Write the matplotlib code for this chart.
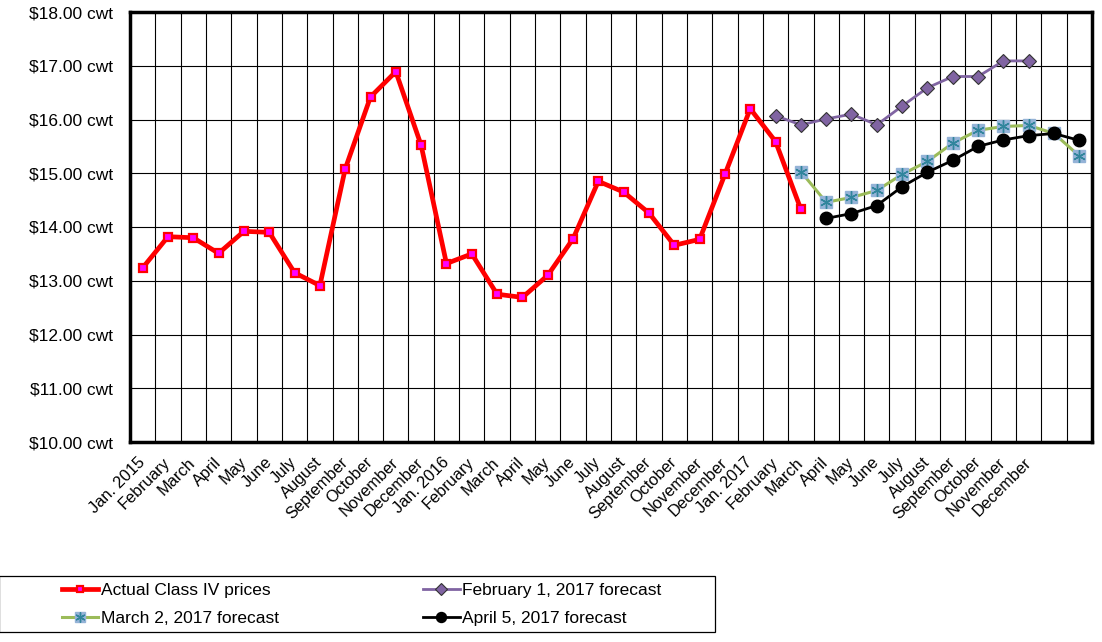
import matplotlib.pyplot as plt
import numpy as np
from matplotlib.patches import Rectangle
from matplotlib.ticker import FuncFormatter

plt.rcParams['font.family'] = ['Liberation Sans', 'DejaVu Sans']

months = ['January', 'February', 'March', 'April', 'May', 'June', 'July',
          'August', 'September', 'October', 'November', 'December']
# category labels: Jan 2015 .. Dec 2017, then two unlabelled slots
labels = (['Jan. 2015'] + months[1:] + ['Jan. 2016'] + months[1:]
          + ['Jan. 2017'] + months[1:] + ['', ''])

actual = [13.24, 13.82, 13.80, 13.51, 13.92, 13.90, 13.15, 12.91, 15.08, 16.42,
          16.89, 15.52, 13.32, 13.50, 12.75, 12.69, 13.10, 13.78, 14.85, 14.65,
          14.26, 13.66, 13.77, 14.98, 16.20, 15.59, 14.33]
feb_forecast = [None] * 25 + [16.07, 15.90, 16.01, 16.10, 15.90, 16.25, 16.59,
                              16.80, 16.80, 17.09, 17.09]
mar_forecast = [None] * 26 + [15.03, 14.46, 14.55, 14.68, 14.98, 15.22, 15.56,
                              15.80, 15.87, 15.89, 15.74, 15.32]
apr_forecast = [None] * 27 + [14.16, 14.25, 14.40, 14.75, 15.02, 15.24, 15.50,
                              15.62, 15.70, 15.74, 15.61]


def as_series(vals):
    return np.array([np.nan if v is None else v for v in vals], dtype=float)


x = np.arange(len(labels))

fig = plt.figure(figsize=(11.02, 6.42), dpi=100)
ax = fig.add_axes([130 / 1102, 1 - 442 / 642, 962 / 1102, 430 / 642])

feb = as_series(feb_forecast)
mar = as_series(mar_forecast)
apr = as_series(apr_forecast)

h_act, = ax.plot(x[:len(actual)], actual, color='red', lw=3.4, marker='s', ms=6,
                 mfc='#ff00ff', mec='red', mew=1.6, zorder=3)
h_feb, = ax.plot(x[:len(feb)], feb, color='#8064a2', lw=2, marker='D',
                 ms=7.5, mfc='#8064a2', mec='#333333', mew=0.8, zorder=3)
h_mar, = ax.plot(x[:len(mar)], mar, color='#9bbb59', lw=2.2, marker='s', ms=9,
                 mfc='#95b3d7', mec='#95b3d7', zorder=3)
h_mar2, = ax.plot(x[:len(mar)], mar, ls='none', marker=(6, 2, 0), ms=9,
                  mec='#31859c', mew=1, zorder=3)
h_apr, = ax.plot(x[:len(apr)], apr, color='black', lw=2, marker='o',
                 ms=9, zorder=4)

ax.set_xlim(-0.5, len(labels) - 0.5)
ax.set_ylim(10, 18)
ax.set_yticks(np.arange(10, 18.5, 1))
ax.yaxis.set_major_formatter(FuncFormatter(lambda v, _: '${:.2f} cwt'.format(v)))
ax.set_xticks(x)
ax.set_xticklabels(labels, rotation=45, ha='right', va='center',
                   rotation_mode='anchor', fontsize=11.8)
ax.set_xticks(np.arange(-0.5, len(labels), 1), minor=True)
ax.tick_params(axis='both', which='both', length=0)
ax.tick_params(axis='y', labelsize=12.5, pad=12)
ax.tick_params(axis='x', pad=13)
ax.grid(True, axis='x', which='minor', color='black', lw=0.8)
ax.grid(True, axis='y', which='major', color='black', lw=0.8)
ax.set_axisbelow(True)
for s in ax.spines.values():
    s.set_linewidth(2.5)
    s.set_zorder(5)

# legend frame drawn separately so the entries can sit inside it freely
fig.patches.append(Rectangle((-1 / 1102, 1 - 632 / 642), 716 / 1102, 56 / 642,
                             transform=fig.transFigure, fill=False,
                             edgecolor='black', lw=0.9))
fig.legend([h_act, (h_mar, h_mar2), h_feb, h_apr],
           ['Actual Class IV prices', 'March 2, 2017 forecast',
            'February 1, 2017 forecast', 'April 5, 2017 forecast'],
           ncol=2, loc='center left',
           bbox_to_anchor=(62 / 1102, 1 - 604.5 / 642),
           fontsize=12.5, frameon=False, handlelength=2.1, handletextpad=0.15,
           borderpad=0, labelspacing=0.78, columnspacing=8.3,
           markerscale=0.8, borderaxespad=0)

fig.savefig('out.png', dpi=100)
